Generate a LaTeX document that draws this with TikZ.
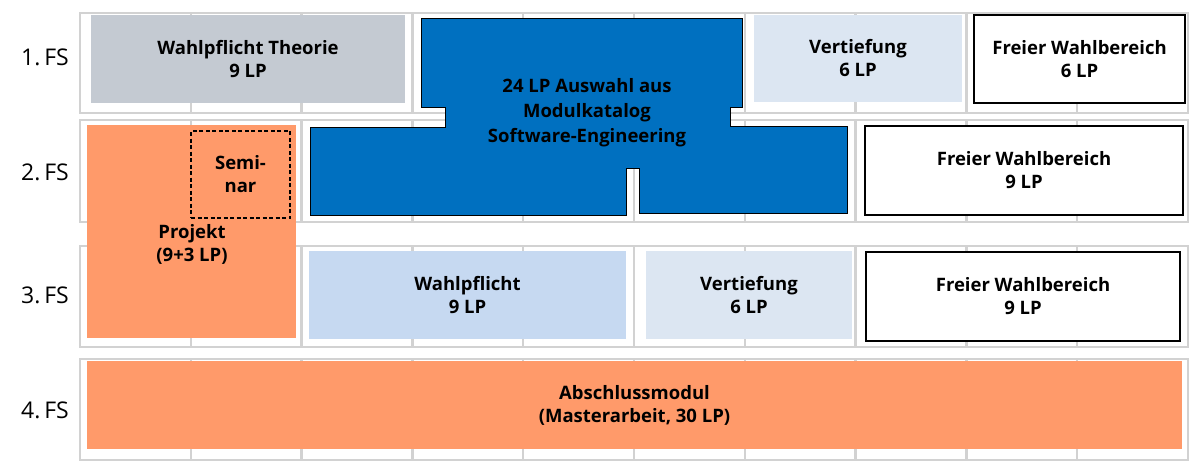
\documentclass[tikz,border=0pt]{standalone}
\usepackage{fontspec}
\setmainfont{Open Sans}
\usetikzlibrary{positioning}
\definecolor{cGrid}{HTML}{D2D2D2}
\definecolor{cTheo}{HTML}{C4CAD2}
\definecolor{cSE}{HTML}{0070C0}
\definecolor{cVert}{HTML}{DCE6F2}
\definecolor{cWpf}{HTML}{C6D9F1}
\definecolor{cProj}{HTML}{FF9A6A}
\tikzset{
  cell/.style={draw=cGrid,line width=2.5pt},
  modul/.style={inner sep=0pt,align=center,font=\bfseries\fontsize{18.5}{23}\selectfont},
  frei/.style={modul,draw=black,line width=1.3pt,fill=white},
  fslbl/.style={font=\fontsize{23}{28}\selectfont},
}

\begin{document}
\begin{tikzpicture}[x=1pt,y=-1pt]
  \useasboundingbox (0,0) rectangle (1200,471);
  % semester grid
  \foreach \ya/\yb in {13/113,120/222,246/347,359/460}
    \foreach \i in {0,...,9}
      \draw[cell] ({80+\i*110.8},\ya) rectangle ({80+(\i+1)*110.8},\yb);
  % row labels
  \node[fslbl] (fs1) at (45,57) {1.\,FS};
  \node[fslbl] (fs2) at (45,172) {2.\,FS};
  \node[fslbl] (fs3) at (45,295) {3.\,FS};
  \node[fslbl] (fs4) at (45,410) {4.\,FS};
  % 1. FS
  \node[modul,fill=cTheo,minimum width=314pt,minimum height=88pt] (theo) at (248,59) {Wahlpflicht Theorie\\9 LP};
  \node[modul,fill=cVert,minimum width=208pt,minimum height=87pt] (vert1) at (858,58.5) {Vertiefung\\6 LP};
  \node[frei,minimum width=211pt,minimum height=88pt] (frei1) at (1079.5,59) {Freier Wahlbereich\\6 LP};
  % Modulkatalog Software-Engineering
  \draw[fill=cSE,draw=black,line width=1pt]
    (421,18) -- (742,18) -- (742,107) -- (730,107) -- (730,126) -- (847,126)
    -- (847,213) -- (639,213) -- (639,168) -- (626,168) -- (626,215) -- (310,215)
    -- (310,127) -- (445,127) -- (445,107) -- (421,107) -- cycle;
  \node[modul,font=\bfseries\fontsize{18.5}{25}\selectfont] (se) at (587,113) {24 LP Auswahl aus\\Modulkatalog\\Software-Engineering};
  % Projekt with Seminar
  \node[fill=cProj,minimum width=209pt,minimum height=213pt] (proj) at (191.5,231.5) {};
  \node[modul] at (192,244) {Projekt\\(9+3 LP)};
  \node[modul,draw=black,line width=1.2pt,dash pattern=on 4pt off 2.5pt,minimum width=99pt,minimum height=87pt] (sem) at (240.5,174.5) {Semi-\\nar};
  % 2. FS
  \node[frei,minimum width=318pt,minimum height=89pt] (frei2) at (1024,170.5) {Freier Wahlbereich\\9 LP};
  % 3. FS
  \node[modul,fill=cWpf,minimum width=317pt,minimum height=88pt] (wpf) at (467.5,295) {Wahlpflicht\\9 LP};
  \node[modul,fill=cVert,minimum width=206pt,minimum height=88pt] (vert3) at (749,295) {Vertiefung\\6 LP};
  \node[frei,minimum width=314pt,minimum height=89pt] (frei3) at (1023,296.5) {Freier Wahlbereich\\9 LP};
  % 4. FS
  \node[modul,fill=cProj,minimum width=1095pt,minimum height=88pt] (abschl) at (634.5,405) {Abschlussmodul\\(Masterarbeit, 30 LP)};
\end{tikzpicture}
\end{document}
